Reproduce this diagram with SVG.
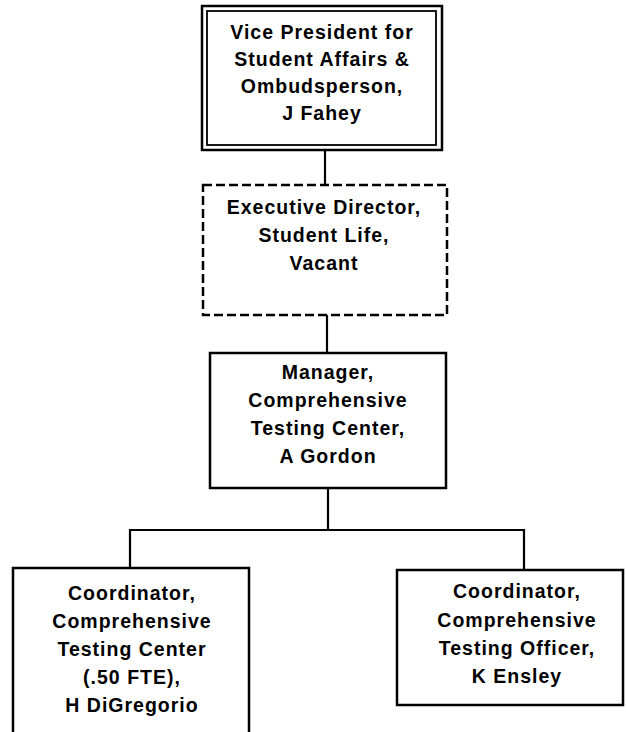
<svg xmlns="http://www.w3.org/2000/svg" width="626" height="732" viewBox="0 0 626 732">
<style>
.box{fill:#fff;stroke:#000;stroke-width:2.5}
.inner{fill:none;stroke:#000;stroke-width:1.8}
.dash{fill:#fff;stroke:#000;stroke-width:2.5;stroke-dasharray:9 4}
.conn{fill:none;stroke:#000;stroke-width:2.2}
text{font-family:"Liberation Sans",Arial,sans-serif;font-weight:bold;font-size:19.5px;letter-spacing:1px;text-anchor:middle;fill:#000}
</style>
<rect width="626" height="732" fill="#fff"/>
<g id="connectors">
<line class="conn" x1="325" y1="150" x2="325" y2="185"/>
<line class="conn" x1="327" y1="315" x2="327" y2="353"/>
<line class="conn" x1="328" y1="488" x2="328" y2="530"/>
<polyline class="conn" points="130,568 130,530 524,530 524,570"/>
</g>
<g id="vp">
<rect class="box" x="202" y="6" width="240" height="144"/>
<rect class="inner" x="207" y="11" width="229" height="134"/>
<text x="322" y="39">Vice President for</text>
<text x="322" y="66">Student Affairs &amp;</text>
<text x="322" y="93">Ombudsperson,</text>
<text x="322" y="120">J Fahey</text>
</g>
<g id="exec">
<rect class="dash" x="203" y="185" width="244" height="130"/>
<text x="324" y="214">Executive Director,</text>
<text x="324" y="242">Student Life,</text>
<text x="324" y="270">Vacant</text>
</g>
<g id="manager">
<rect class="box" x="210" y="353" width="236" height="135"/>
<text x="328" y="379">Manager,</text>
<text x="328" y="407">Comprehensive</text>
<text x="328" y="435">Testing Center,</text>
<text x="328" y="463">A Gordon</text>
</g>
<g id="coord1">
<rect class="box" x="13" y="568" width="236" height="180"/>
<text x="132" y="600">Coordinator,</text>
<text x="132" y="628">Comprehensive</text>
<text x="132" y="656">Testing Center</text>
<text x="132" y="684">(.50 FTE),</text>
<text x="132" y="712">H DiGregorio</text>
</g>
<g id="coord2">
<rect class="box" x="397" y="570" width="226" height="135"/>
<text x="517" y="598">Coordinator,</text>
<text x="517" y="627">Comprehensive</text>
<text x="517" y="655">Testing Officer,</text>
<text x="517" y="683">K Ensley</text>
</g>
</svg>
